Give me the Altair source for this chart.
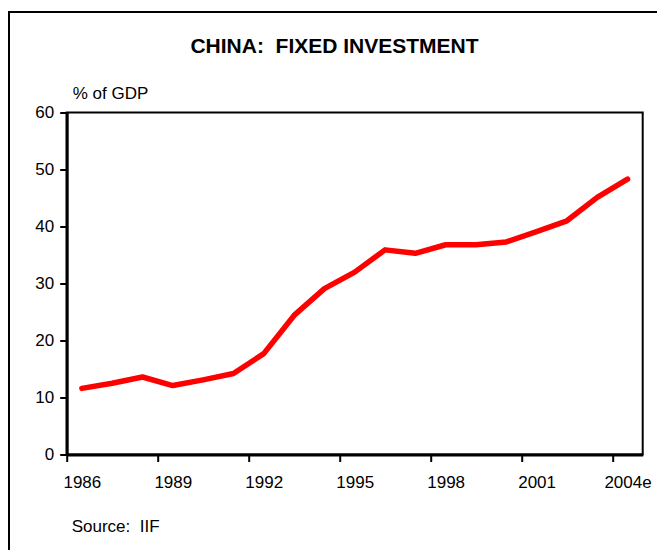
import altair as alt
import pandas as pd

# ---- data ----
years = ["1986", "1987", "1988", "1989", "1990", "1991", "1992", "1993", "1994",
         "1995", "1996", "1997", "1998", "1999", "2000", "2001", "2002", "2003", "2004e"]
fixed_investment = [11.6, 12.5, 13.6, 12.1, 13.1, 14.2, 17.7, 24.4, 29.1,
                    32.0, 35.9, 35.3, 36.8, 36.8, 37.3, 39.1, 41.0, 45.1, 48.3]
x_tick_labels = ["1986", "1989", "1992", "1995", "1998", "2001", "2004e"]
y_tick_values = [0, 10, 20, 30, 40, 50, 60]
title_text = "CHINA:  FIXED INVESTMENT"
unit_text = "% of GDP"
source_text = "Source:  IIF"

# ---- layout ----
W, H = 576, 342
step = W / len(years)
FONT = "Liberation Sans"
PAD_L, PAD_T = 58.7, 104.5
PAD_R = 649 - PAD_L - W
PAD_B = 542 - PAD_T - H


def keep_spaces(s):
    # SVG collapses repeated spaces; keep the visual double gap
    return s.replace("  ", " \u00a0")


df = pd.DataFrame({"year": years, "value": fixed_investment})

line = alt.Chart(df).mark_line(
    color="#ff0000", strokeWidth=5.5, strokeJoin="round", strokeCap="round"
).encode(
    x=alt.X("year:O", sort=years,
            scale=alt.Scale(type="point", padding=0.5, domain=years),
            axis=alt.Axis(values=x_tick_labels, title=None, labelAngle=0,
                          tickOffset=-step / 2, labelOffset=step / 2,
                          labelPadding=13, labelOverlap=False, labelBound=False,
                          labelFlush=False)),
    y=alt.Y("value:Q",
            scale=alt.Scale(domain=[0, 60], nice=False, zero=True),
            axis=alt.Axis(values=y_tick_values, title=None, grid=False,
                          labelPadding=6)),
)


def text_layer(txt, x, y, size, bold=False, align="left"):
    return alt.Chart(pd.DataFrame({"t": [keep_spaces(txt)]})).mark_text(
        align=align, baseline="middle", fontSize=size, font=FONT,
        fontWeight="bold" if bold else "normal", color="black"
    ).encode(text="t:N", x=alt.value(x), y=alt.value(y))


title = text_layer(title_text, 267.8, -65.5, 21, bold=True, align="center")
unit = text_layer(unit_text, 6, -19, 17)
source = text_layer(source_text, 5, 414, 17)

border = alt.Chart(pd.DataFrame({"b": [1]})).mark_rect(
    filled=False, stroke="black", strokeWidth=2
).encode(x=alt.value(-57.7), x2=alt.value(640), y=alt.value(-100.5), y2=alt.value(520))

chart = alt.layer(border, line, title, unit, source).properties(
    width=W, height=H,
    autosize=alt.AutoSizeParams(type="none"),
    padding={"left": PAD_L, "top": PAD_T, "right": PAD_R, "bottom": PAD_B},
    background="white",
).configure_view(
    stroke="black", strokeWidth=2
).configure_axis(
    domainColor="black", domainWidth=3, tickColor="black", tickWidth=2,
    tickSize=7, labelFont=FONT, labelFontSize=17, labelColor="black", grid=False
)

chart.save("out.html", embed_options={"renderer": "svg", "actions": False})
